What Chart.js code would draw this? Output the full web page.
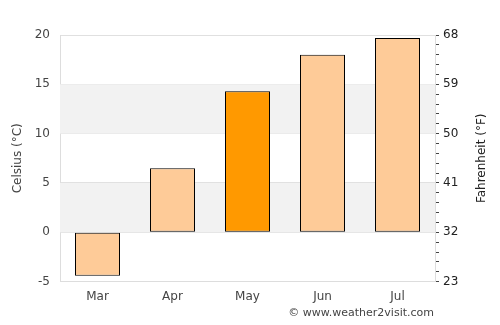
<!DOCTYPE html>
<html>
<head>
<meta charset="utf-8">
<script src="https://cdn.jsdelivr.net/npm/chart.js@4/dist/chart.umd.min.js"></script>
<style>
  body { margin: 0; background: #fff; }
  #wrap { width: 500px; height: 325px; }
</style>
</head>
<body>
<div id="wrap"><canvas id="myChart"></canvas></div>
<script>
var months = ["Mar", "Apr", "May", "Jun", "Jul"];
var celsius = [-4.4, 6.5, 14.3, 18, 19.7];
var barColors = ["#fecb98", "#fecb98", "#ff9900", "#fecb98", "#fecb98"];
var bands = [[0, 5], [10, 15]];

// grey stripes behind the bars
var stripes = {
  id: "stripes",
  beforeDatasetsDraw: function(chart) {
    var ctx = chart.ctx;
    var y = chart.scales.y;
    var area = chart.chartArea;
    ctx.save();
    ctx.fillStyle = "#f2f2f2";
    for (var i = 0; i < bands.length; i++) {
      var top = y.getPixelForValue(bands[i][1]);
      var bot = y.getPixelForValue(bands[i][0]);
      ctx.fillRect(area.left, top, area.right - area.left, bot - top);
    }
    ctx.restore();
  }
};

// right axis title (reads bottom to top) and the credit line
var extras = {
  id: "extras",
  afterDraw: function(chart) {
    var ctx = chart.ctx;
    var area = chart.chartArea;
    ctx.save();
    ctx.font = "12px 'DejaVu Sans'";
    ctx.fillStyle = "#222";
    ctx.textAlign = "center";
    ctx.textBaseline = "middle";
    ctx.translate(482, (area.top + area.bottom) / 2);
    ctx.rotate(-Math.PI / 2);
    ctx.fillText("Fahrenheit (°F)", 0, 0);
    ctx.restore();

    ctx.save();
    ctx.font = "11px 'DejaVu Sans'";
    ctx.fillStyle = "#444";
    ctx.textAlign = "right";
    ctx.textBaseline = "middle";
    ctx.fillText("© www.weather2visit.com", area.right - 1, 313);
    ctx.restore();
  }
};

var ctx = document.getElementById("myChart").getContext("2d");
var chart = new Chart(ctx, {
  type: "bar",
  data: {
    labels: months,
    datasets: [{
      data: celsius,
      backgroundColor: barColors,
      borderColor: "#000",
      borderWidth: 1,
      borderSkipped: false,
      categoryPercentage: 0.6,
      barPercentage: 1
    }]
  },
  options: {
    responsive: true,
    maintainAspectRatio: false,
    animation: false,
    layout: { padding: { left: 11, right: 37, top: 35, bottom: 21 } },
    plugins: {
      legend: { display: false },
      tooltip: { enabled: false }
    },
    scales: {
      x: {
        grid: { display: false },
        border: { display: true, color: "#ddd" },
        ticks: { color: "#444", font: { family: "DejaVu Sans", size: 12 }, padding: 0 }
      },
      y: {
        position: "left",
        min: -5, max: 20,
        afterFit: function(scale) { scale.width = 49; },
        ticks: { stepSize: 5, color: "#444", font: { family: "DejaVu Sans", size: 12 }, padding: 10 },
        grid: { color: "#e0e0e0", drawTicks: false, z: -1 },
        border: { display: true, color: "#ddd" },
        title: { display: true, text: "Celsius (°C)", color: "#444", font: { family: "DejaVu Sans", size: 12 }, padding: 0 }
      },
      y2: {
        position: "right",
        min: -5, max: 20,
        afterFit: function(scale) { scale.width = 28; },
        ticks: {
          stepSize: 1,
          autoSkip: false,
          color: "#222",
          font: { family: "DejaVu Sans", size: 12 },
          padding: 4,
          callback: function(v) {
            if (v % 5 !== 0) return "";
            return Math.round(v * 9 / 5 + 32);
          }
        },
        grid: { drawOnChartArea: false, drawTicks: true, tickLength: 4, color: "#444" },
        border: { display: true, color: "#ddd" }
      }
    }
  },
  plugins: [stripes, extras]
});
</script>
</body>
</html>
